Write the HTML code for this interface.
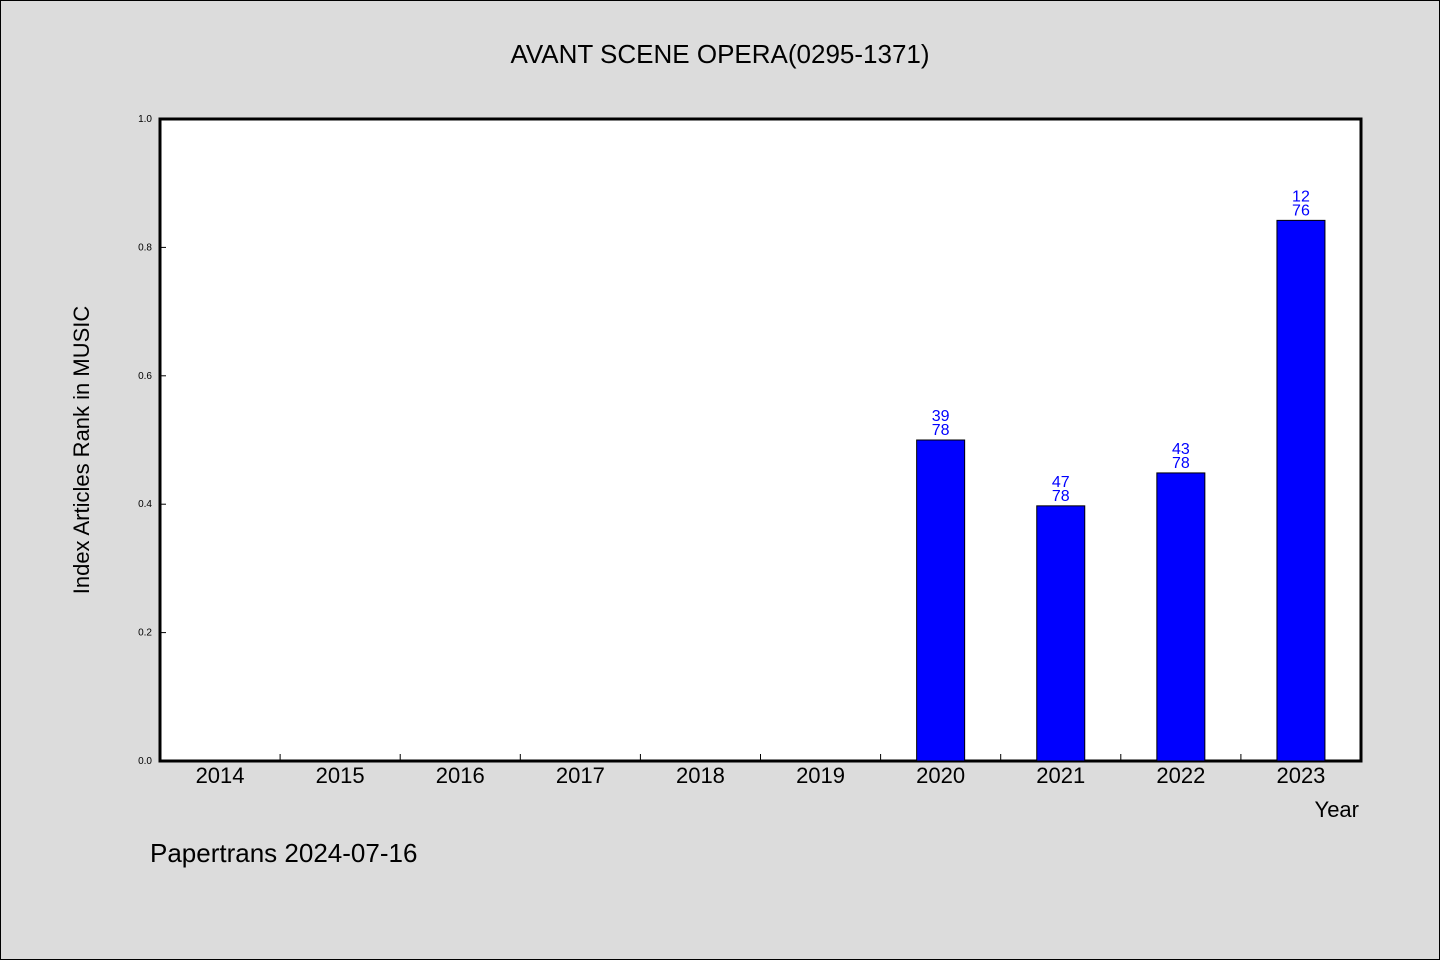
<!DOCTYPE html>
<html><head><meta charset="utf-8"><style>
body{margin:0;background:#dcdcdc;}
svg{display:block;font-family:"WenQuanYi Zen Hei","Liberation Sans",sans-serif;}
</style></head><body>
<svg id="c" width="1440" height="960">
<rect x="0.5" y="0.5" width="1439" height="959" fill="#dcdcdc" stroke="#000"/>
<text x="720" y="63" text-anchor="middle" font-size="26">AVANT SCENE OPERA(0295-1371)</text>
<rect x="160" y="119" width="1201" height="642" fill="#fff" stroke="#000" stroke-width="3"/>
<g id="marks"></g>
<text transform="translate(89,450) rotate(-90)" text-anchor="middle" font-size="22">Index Articles Rank in MUSIC</text>
<text x="1359" y="817" text-anchor="end" font-size="22">Year</text>
<text x="150" y="862" font-size="26">Papertrans 2024-07-16</text>
</svg>
<script>
const years=["2014","2015","2016","2017","2018","2019","2020","2021","2022","2023"];
const ranks=[null,null,null,null,null,null,39,47,43,12];
const totals=[null,null,null,null,null,null,78,78,78,76];
const yTicks=["0.0","0.2","0.4","0.6","0.8","1.0"];
const X0=160,X1=1361,Y0=761,Y1=119;
const step=(X1-X0)/years.length;
const xc=i=>X0+step*(i+0.5);
const ys=v=>Y0-(Y0-Y1)*v;
const g=document.getElementById('marks');
const NS="http://www.w3.org/2000/svg";
function mk(t,a){const e=document.createElementNS(NS,t);for(const k in a)e.setAttribute(k,a[k]);g.appendChild(e);return e;}
yTicks.forEach(t=>{const y=ys(parseFloat(t));
 const l=mk('line',{x1:X0,x2:X0+6,y1:y,y2:y,stroke:'#000'});
 
 
 const tx=mk('text',{x:X0-8,y:y+3,'text-anchor':'end','font-size':10});tx.textContent=t;
 
 
});
years.forEach((yr,i)=>{
 if(i>0){const l=mk('line',{x1:X0+step*i,x2:X0+step*i,y1:Y0,y2:Y0-7,stroke:'#000'});
  
  }
 const tx=mk('text',{x:xc(i),y:783,'text-anchor':'middle','font-size':22});tx.textContent=yr;
 
 
 if(ranks[i]!=null){
  const v=1-ranks[i]/totals[i];
  const b=mk('rect',{x:xc(i)-24,y:ys(v),width:48,height:Y0-ys(v),fill:'#0000ff',stroke:'#000','stroke-width':1});
  
  
  const t1=mk('text',{x:xc(i),y:ys(v)-19,'text-anchor':'middle','font-size':16,fill:'#0000ff'});t1.textContent=ranks[i];
  
  
  const t2=mk('text',{x:xc(i),y:ys(v)-5,'text-anchor':'middle','font-size':16,fill:'#0000ff'});t2.textContent=totals[i];
  
  
 }
});
</script>
</body></html>
